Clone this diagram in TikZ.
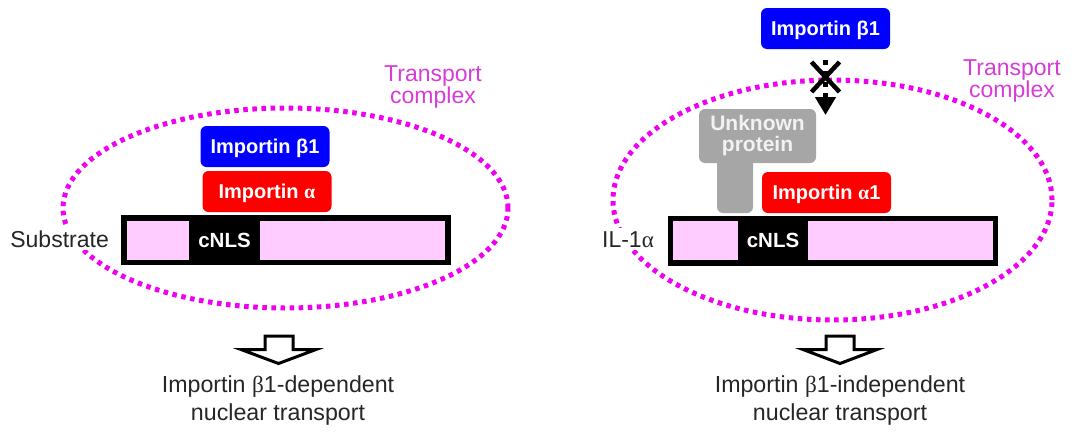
\documentclass[tikz,border=0pt]{standalone}
\usepackage{fontspec}
\setmainfont{Liberation Sans}
\newfontfamily\greekserif{Liberation Serif}
\usetikzlibrary{arrows.meta}
\definecolor{impblue}{RGB}{0,0,255}
\definecolor{impred}{RGB}{255,0,0}
\definecolor{unkgray}{RGB}{166,166,166}
\definecolor{barpink}{RGB}{255,204,255}
\definecolor{ringmag}{RGB}{240,0,240}
\definecolor{tcmag}{RGB}{214,60,214}
\tikzset{
  protbox/.style={rounded corners=6pt, minimum width=129pt, minimum height=41pt,
    inner sep=0pt, text=white, font=\fontsize{20}{22}\selectfont\bfseries,
    text height=14.5pt, text depth=0pt},
  bluebox/.style={protbox, fill=impblue},
  redbox/.style={protbox, fill=impred},
  graybox/.style={rounded corners=6pt, fill=unkgray, minimum width=117pt, minimum height=54pt,
    inner sep=0pt, align=center, text=white!95!black, font=\fontsize{21}{21}\selectfont\bfseries},
  graystem/.style={fill=unkgray, rounded corners=6pt},
  barbox/.style={fill=black, minimum width=330pt, minimum height=50pt, inner sep=0pt},
  pinkpart/.style={fill=barpink},
  nlstext/.style={text=white, font=\fontsize{20.5}{22}\selectfont\bfseries, inner sep=0pt},
  sidelabel/.style={font=\fontsize{23}{24}\selectfont, fill=white, inner sep=3pt, text=black!85},
  dotring/.style={draw=ringmag, line width=5pt, dash pattern=on 4.5pt off 4.6pt},
  tclabel/.style={text=tcmag, align=center, font=\fontsize{23}{20.5}\selectfont, inner sep=0pt},
  openarrow/.style={draw=black, fill=white, line width=3pt, line join=miter},
  resultlabel/.style={align=center, font=\fontsize{23.2}{28}\selectfont, inner sep=0pt, text=black!85},
  blocked/.style={draw=black, line width=4.5pt, dash pattern=on 5pt off 6pt,
    -{Triangle[width=20pt,length=18pt]}, shorten <=11pt},
  xmark/.style={draw=black, line width=4.5pt}
}
\begin{document}
\begin{tikzpicture}[x=1pt,y=-1pt]
\useasboundingbox (0,0) rectangle (1079,437);

% ---------------- left panel ----------------
\draw[dotring] (285.5,208) ellipse [x radius=222.5pt, y radius=100pt];
\node[tclabel] (tcl) at (433,87) {Transport\\complex};

\node[bluebox] (b1l) at (265,146.5) {Importin β1};
\node[redbox] (al) at (267,191.5) {Importin {\greekserif α}};

\node[barbox] (barl) at (286,240) {};
\fill[pinkpart] (127,221) rectangle (189,260);
\fill[pinkpart] (260,221) rectangle (445,260);
\node[nlstext] (nlsl) at (224.5,240.5) {cNLS};
\node[sidelabel, anchor=base east] (subl) at (112,247) {Substrate};

\draw[openarrow] (265,336) -- (293,336) -- (293,349.5) -- (316,349.5) -- (278.5,363.5)
  -- (241,349.5) -- (265,349.5) -- cycle;
\node[resultlabel] (resl) at (278,400) {Importin {\greekserif β}1-dependent\\nuclear transport};

% ---------------- right panel ----------------
\draw[dotring] (832.5,200) ellipse [x radius=219.5pt, y radius=120pt];
\node[tclabel] (tcr) at (1012,81) {Transport\\complex};

\node[bluebox] (b1r) at (825.5,28.5) {Importin β1};
\coordinate (tipr) at (825.5,115);
\draw[blocked] (b1r.south) -- (tipr);
\coordinate (xm) at (825.5,77);
\draw[xmark] (xm) +(-14,-15) -- +(14,15);
\draw[xmark] (xm) +(14,-15) -- +(-14,15);

\fill[graystem] (717,150) rectangle (753,213);
\node[graybox] (unk) at (757.5,136) {Unknown\\protein};
\node[redbox] (a1r) at (826.5,192.5) {Importin {\greekserif α}1};

\node[barbox] (barr) at (833,240.5) {};
\fill[pinkpart] (673,221) rectangle (738,260);
\fill[pinkpart] (808,221) rectangle (993,260);
\node[nlstext] (nlsr) at (773,240.5) {cNLS};
\node[sidelabel, anchor=base east] (ilr) at (657,247) {IL-1{\greekserif α}};

\draw[openarrow] (826,336) -- (854,336) -- (854,349.5) -- (877,349.5) -- (840,363.5)
  -- (803,349.5) -- (826,349.5) -- cycle;
\node[resultlabel] (resr) at (840,400) {Importin {\greekserif β}1-independent\\nuclear transport};
\end{tikzpicture}
\end{document}
